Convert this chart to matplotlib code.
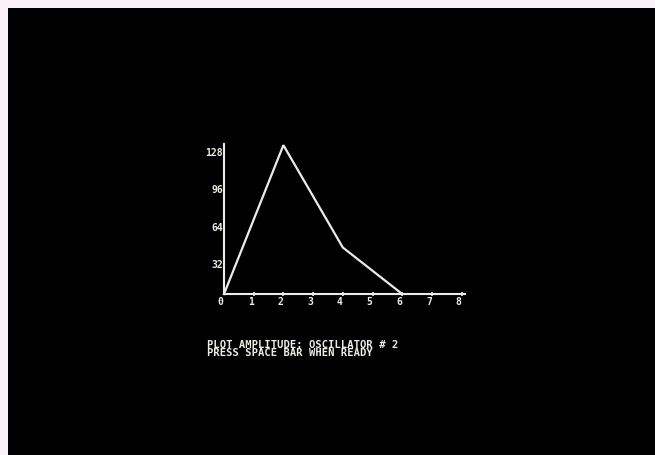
import matplotlib
matplotlib.use("Agg")
import matplotlib.pyplot as plt
from matplotlib.patches import Rectangle

# Oscillator amplitude envelope
steps = [0, 2, 4, 6]
amplitude = [0, 128, 40, 0]
x_ticks = [1, 2, 3, 4, 5, 6, 7, 8]
y_ticks = [0, 32, 64, 96, 128]
caption_lines = ["PLOT AMPLITUDE: OSCILLATOR # 2", "PRESS SPACE BAR WHEN READY"]

W, H = 655, 456
fig = plt.figure(figsize=(W / 100, H / 100), dpi=100)
fig.patch.set_facecolor("#fbf2f7")
# dark screen area
fig.patches.append(Rectangle((8 / W, 0), 1, (H - 9) / H, transform=fig.transFigure,
                             facecolor="black", edgecolor="none", zorder=-5))

fg = "#ecebe4"
mono = "DejaVu Sans Mono"

ax = fig.add_axes([224 / W, 161 / H, 8.1 * 29.7 / W, 150 / H])
ax.set_zorder(2)
ax.set_facecolor("none")
ax.set_xlim(0, 8.1)
ax.set_ylim(0, 129)
for s in ("top", "right"):
    ax.spines[s].set_visible(False)
for s in ("left", "bottom"):
    ax.spines[s].set_color(fg)
    ax.spines[s].set_linewidth(1.5)
ax.set_xticks(x_ticks)
ax.set_xticklabels([])
ax.set_yticks([])
ax.tick_params(axis="x", direction="inout", length=3, width=1.2, color=fg)

ax.plot(steps, amplitude, color=fg, lw=1.6, solid_joinstyle="miter", clip_on=False)

for v in x_ticks:
    ax.annotate(str(v), (v, 0), xytext=(-3, -7), textcoords="offset pixels",
                ha="center", va="center", color=fg, fontsize=7,
                fontfamily=mono, fontweight="bold", annotation_clip=False)
for v in y_ticks:
    ax.annotate(str(v), (0, v), xytext=(-1, -7), textcoords="offset pixels",
                ha="right", va="center", color=fg, fontsize=7,
                fontfamily=mono, fontweight="bold", annotation_clip=False)

for i, line in enumerate(caption_lines):
    fig.text(207 / W, 1 - (344.5 + 9 * i) / H, line, ha="left", va="center",
             color=fg, fontsize=7.6, fontfamily=mono, fontweight="bold", zorder=3)

fig.savefig("out.png", dpi=100, facecolor=fig.get_facecolor())
